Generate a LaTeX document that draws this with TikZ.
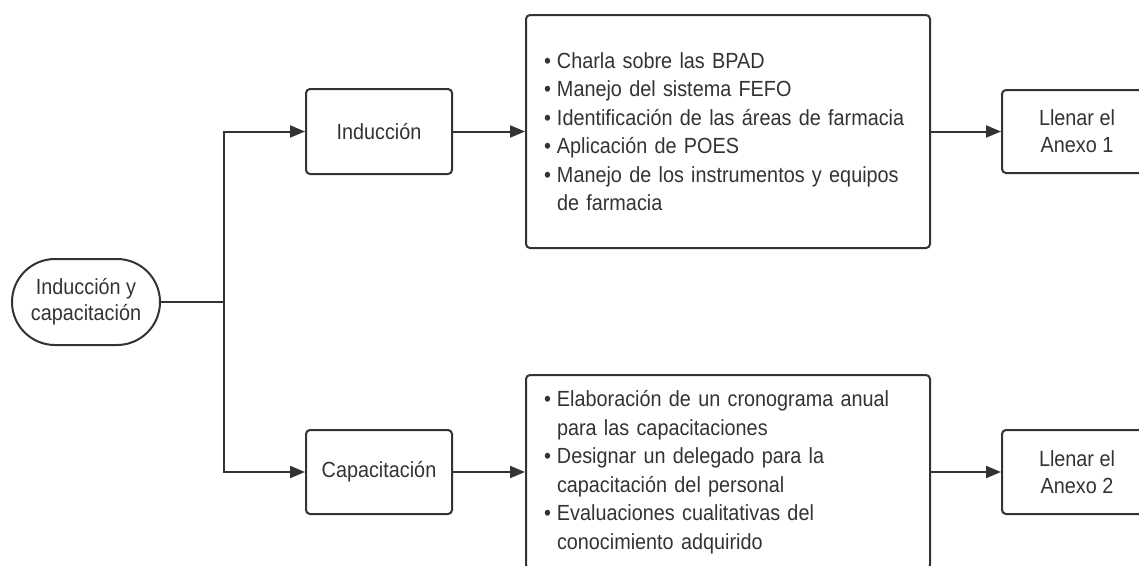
\documentclass[tikz,border=0pt]{standalone}
\usepackage{fontspec}
\setmainfont[FakeStretch=0.905]{Liberation Sans}
\usetikzlibrary{arrows.meta,shapes.misc}
\definecolor{ink}{RGB}{51,51,51}
\newcommand{\bulitem}{\makebox[12pt][l]{\hspace{-1pt}\textbullet}}
\newcommand{\contline}{\hspace*{12pt}}
\begin{document}
\begin{tikzpicture}[x=1pt,y=-1pt,
  box/.style={draw=ink, line width=2pt, rounded corners=4pt, inner sep=0pt, text=ink, align=center, font=\fontsize{21.9}{27}\selectfont},
  listbox/.style={box, align=left, text width=366pt, inner xsep=19pt, font=\fontsize{21.9}{28.5}\selectfont},
  arr/.style={draw=ink, line width=2pt, -{Triangle[length=15pt,width=12pt]}},
  conn/.style={draw=ink, line width=2pt}]
\path[use as bounding box, fill=white] (0,0) rectangle (1139,565);
\clip (0,0) rectangle (1139,565);

\node[box, rounded rectangle, sharp corners, minimum width=148pt, minimum height=86pt, font=\fontsize{21.9}{26}\selectfont] (start) at (86,302) {Inducción y\\capacitación};
\node[box, minimum width=146pt, minimum height=85pt] (ind) at (379,131.5) {Inducción};
\node[box, minimum width=146pt, minimum height=84pt] (cap) at (379,472) {Capacitación};
\node[listbox, minimum height=233pt] (l1) at (728,131.5) {\bulitem Charla sobre las BPAD\\
\bulitem Manejo del sistema FEFO\\
\bulitem Identificación de las áreas de farmacia\\
\bulitem Aplicación de POES\\
\bulitem Manejo de los instrumentos y equipos\\
\contline de farmacia};
\node[listbox, minimum height=194pt] (l2) at (728,472) {\bulitem Elaboración de un cronograma anual\\
\contline para las capacitaciones\\
\bulitem Designar un delegado para la\\
\contline capacitación del personal\\
\bulitem Evaluaciones cualitativas del\\
\contline conocimiento adquirido};
\node[box, minimum width=150pt, minimum height=83pt] (a1) at (1077,131.5) {Llenar el\\Anexo 1};
\node[box, minimum width=150pt, minimum height=84pt] (a2) at (1077,472) {Llenar el\\Anexo 2};

\coordinate (j) at (224,302);
\draw[conn] (start.east) -- (j);
\draw[arr] (j) |- (ind.west);
\draw[arr] (j) |- (cap.west);
\draw[arr] (ind.east) -- (l1.west);
\draw[arr] (l1.east) -- (a1.west);
\draw[arr] (cap.east) -- (l2.west);
\draw[arr] (l2.east) -- (a2.west);
\end{tikzpicture}
\end{document}
